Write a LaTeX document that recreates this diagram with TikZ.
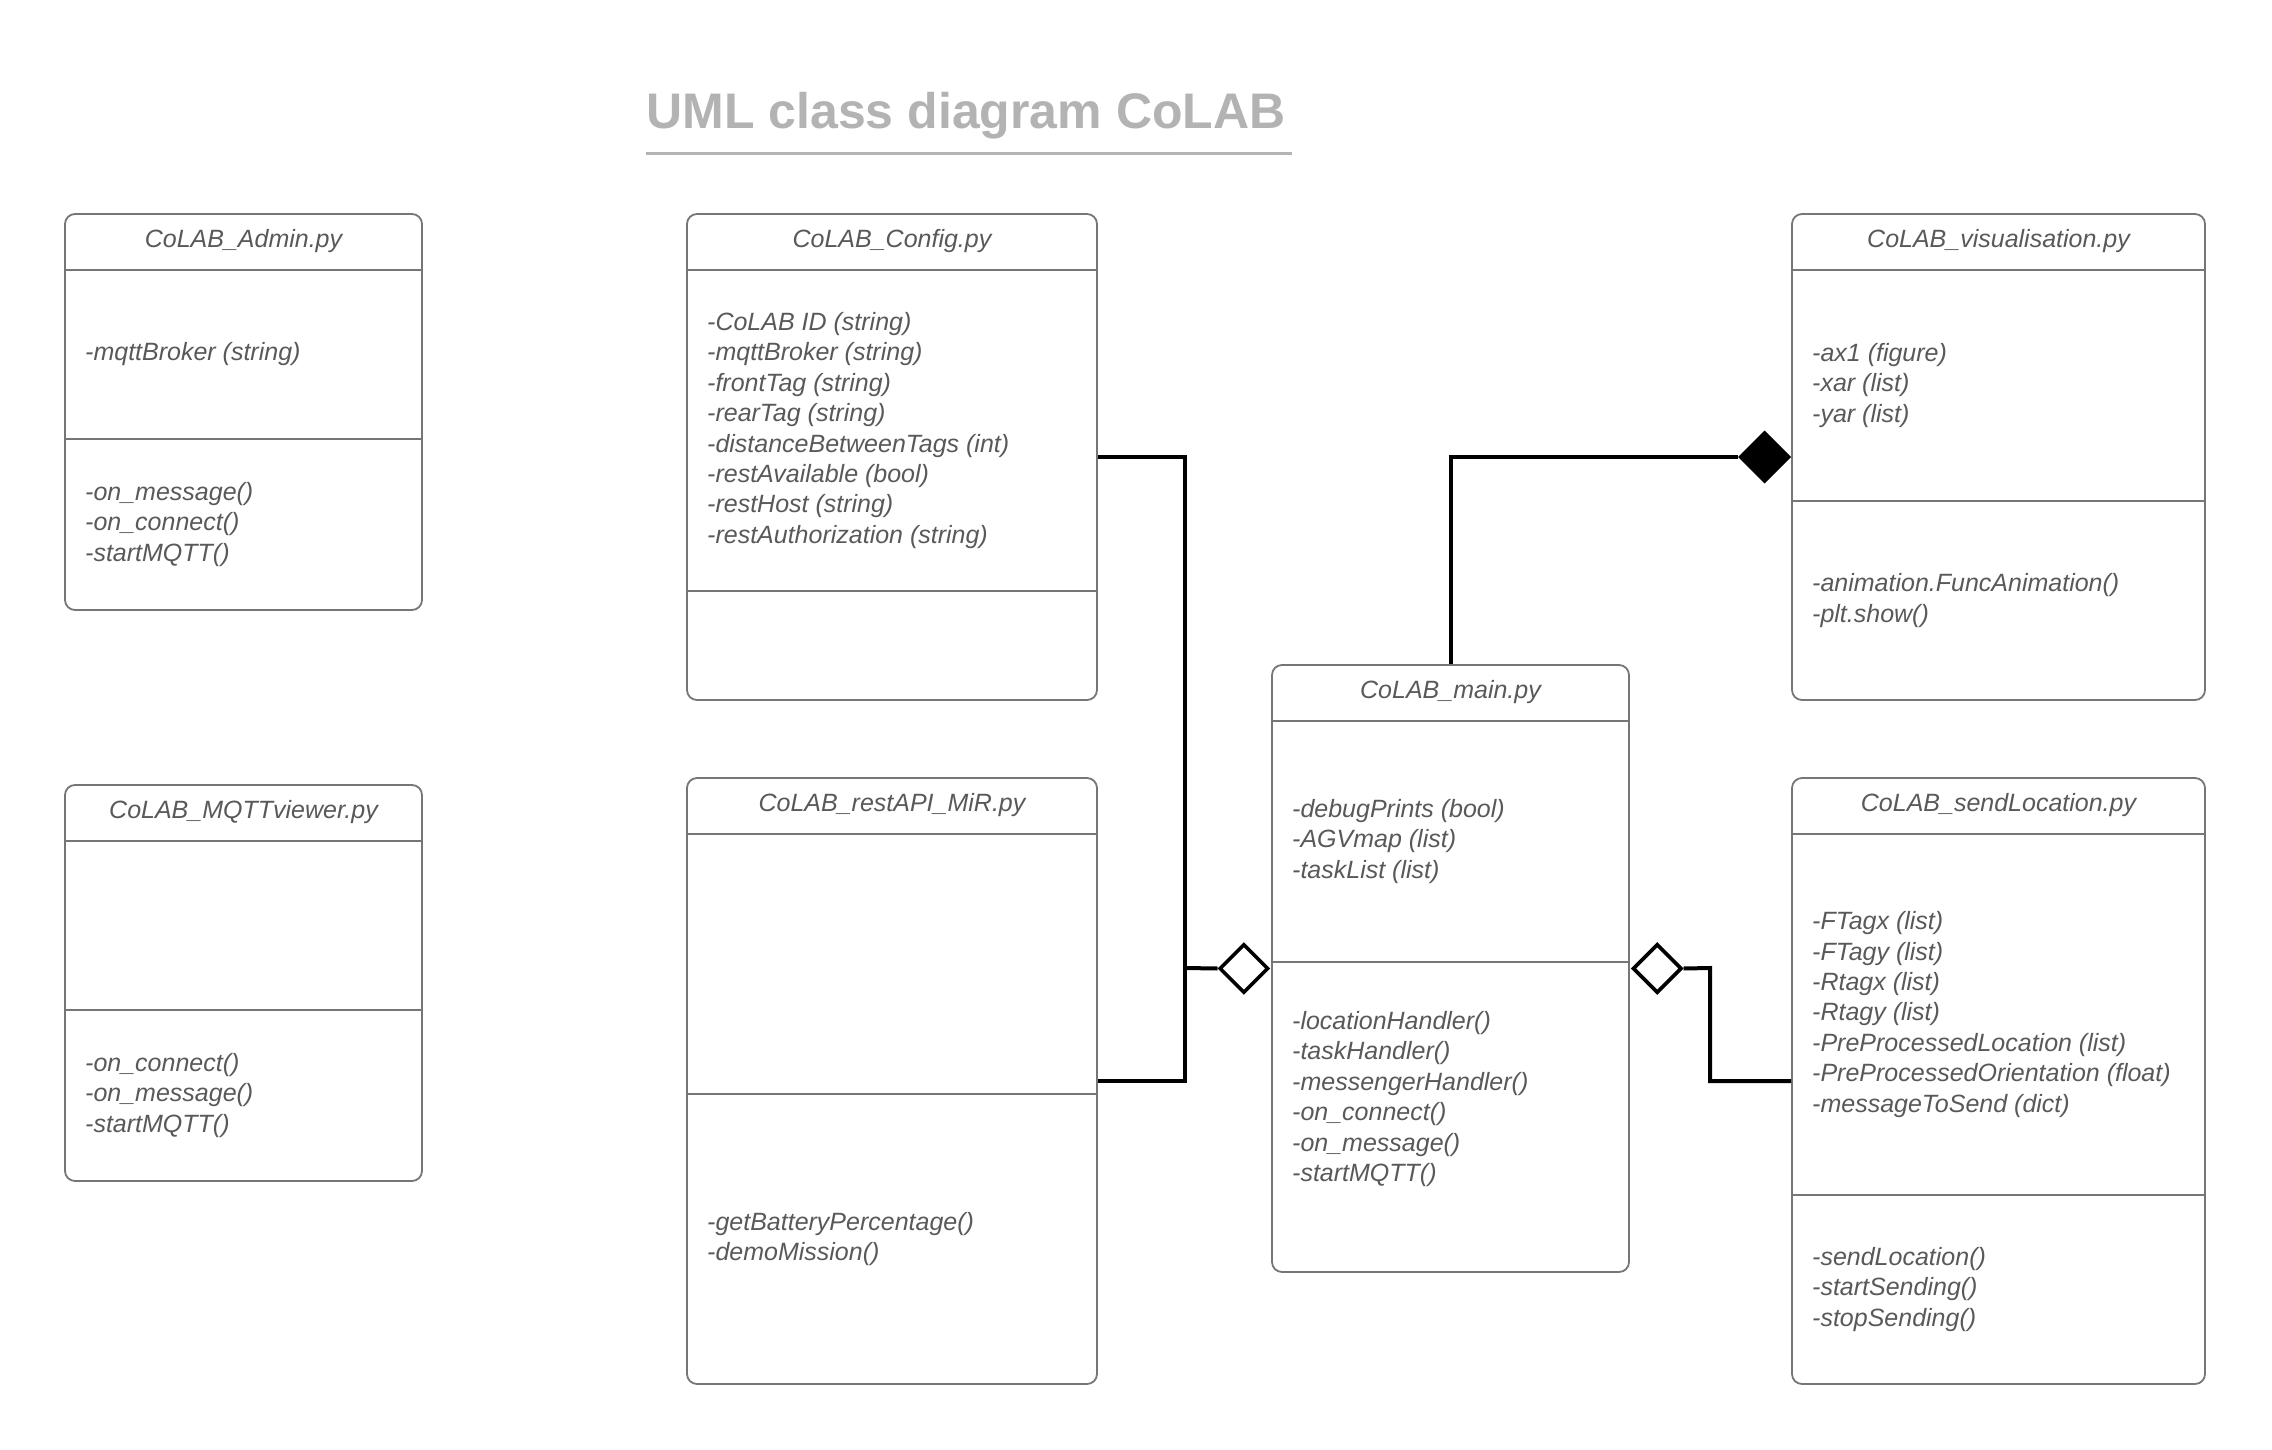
\documentclass[tikz,border=0pt]{standalone}
\usepackage{fontspec}
\setmainfont{Liberation Sans}
\usetikzlibrary{shapes.geometric,fit}
\definecolor{txtgray}{HTML}{595959}
\definecolor{boxgray}{HTML}{767676}
\definecolor{titlegray}{HTML}{B3B3B3}
\tikzset{
  classbox/.style={draw=boxgray, line width=1.8pt, rounded corners=10pt, inner sep=0pt, fill=white},
  divider/.style={draw=boxgray, line width=1.8pt},
  txt/.style={inner sep=0pt, align=left, text=txtgray, font=\fontsize{25}{30.4}\selectfont\itshape},
  hdr/.style={inner sep=0pt, text=txtgray, font=\fontsize{25}{30.4}\selectfont\itshape},
  conn/.style={draw=black, line width=4pt},
  agg/.style={diamond, aspect=1, draw=black, fill=white, line width=3.6pt, inner sep=0pt, minimum width=49pt, minimum height=49pt},
  comp/.style={diamond, aspect=1, draw=black, fill=black, line width=1pt, inner sep=0pt, minimum width=52pt, minimum height=52pt},
  titlefont/.style={inner sep=0pt, text=titlegray, font=\fontsize{50}{60}\selectfont\bfseries},
  mainmeth/.style={yshift=18pt}
}
% #1 name, #2 left, #3 top, #4 right, #5 bottom, #6 divider y, #7 title, #8 attributes, #9 methods
\newcommand{\umlclass}[9]{%
  \node[classbox, fit={(#2,#3) (#4,#5)}] (#1) {};
  \draw[divider] (#2,{#3+56}) -- (#4,{#3+56});
  \draw[divider] (#2,#6) -- (#4,#6);
  \node[hdr] (#1-title) at ({(#2+#4)/2},{#3+27}) {#7};
  \node[txt, anchor=west] (#1-attr) at ({#2+20},{(#3+56+#6)/2}) {#8};
  \node[txt, anchor=west, #1meth/.try] (#1-meth) at ({#2+20},{(#6+#5)/2}) {#9};
}
\begin{document}
\begin{tikzpicture}[x=1pt, y=-1pt]
\useasboundingbox (0,0) rectangle (2272,1450);
\fill[white] (0,0) rectangle (2272,1450);

% title
\node[titlefont, anchor=base] (title) at (966,129) {UML class diagram CoLAB};
\draw[titlegray, line width=3pt] (646,154) -- (1292,154);

\umlclass{admin}{65}{214}{422}{610}{439}{CoLAB\_Admin.py}
  {-mqttBroker (string)}
  {-on\_message()\\-on\_connect()\\-startMQTT()}

\umlclass{viewer}{65}{785}{422}{1181}{1010}{CoLAB\_MQTTviewer.py}
  {}
  {-on\_connect()\\-on\_message()\\-startMQTT()}

\umlclass{config}{687}{214}{1097}{700}{591}{CoLAB\_Config.py}
  {-CoLAB ID (string)\\-mqttBroker (string)\\-frontTag (string)\\-rearTag (string)\\-distanceBetweenTags (int)\\-restAvailable (bool)\\-restHost (string)\\-restAuthorization (string)}
  {}

\umlclass{restapi}{687}{778}{1097}{1384}{1094}{CoLAB\_restAPI\_MiR.py}
  {}
  {-getBatteryPercentage()\\-demoMission()}

\umlclass{main}{1272}{665}{1629}{1272}{962}{CoLAB\_main.py}
  {-debugPrints (bool)\\-AGVmap (list)\\-taskList (list)}
  {-locationHandler()\\-taskHandler()\\-messengerHandler()\\-on\_connect()\\-on\_message()\\-startMQTT()}

\umlclass{vis}{1792}{214}{2205}{700}{501}{CoLAB\_visualisation.py}
  {-ax1 (figure)\\-xar (list)\\-yar (list)}
  {-animation.FuncAnimation()\\-plt.show()}

\umlclass{sendloc}{1792}{778}{2205}{1384}{1195}{CoLAB\_sendLocation.py}
  {-FTagx (list)\\-FTagy (list)\\-Rtagx (list)\\-Rtagy (list)\\-PreProcessedLocation (list)\\-PreProcessedOrientation (float)\\-messageToSend (dict)}
  {-sendLocation()\\-startSending()\\-stopSending()}

% diamonds
\node[agg, anchor=east] (agg1) at ([xshift=-1pt]main.west) {};
\node[agg, anchor=west] (agg2) at ([xshift=1pt]main.east) {};
\node[comp, anchor=east] (comp) at (vis.west) {};

% connectors
\coordinate (jL) at (1185,968);
\coordinate (jR) at (1710,968);
\draw[conn] (config.east) -| (jL) |- (restapi.east);
\draw[conn] (jL) -- (agg1.west);
\draw[conn] (sendloc.west) -| (jR) -- (agg2.east);
\draw[conn] (main.north) |- (comp.west);
\end{tikzpicture}
\end{document}
